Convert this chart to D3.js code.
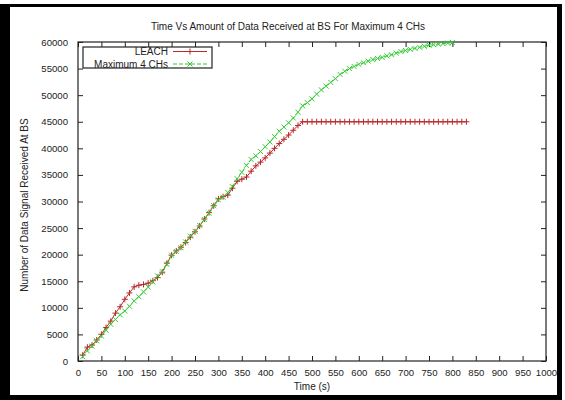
<!DOCTYPE html>
<html>
<head>
<meta charset="utf-8">
<script src="https://cdn.jsdelivr.net/npm/d3@7/dist/d3.min.js"></script>
<style>
  body { margin: 0; background: #fff; }
  text { font-family: "Liberation Sans", Arial, sans-serif; fill: #222; }
</style>
</head>
<body>
<script>
// 데이터: 시간(s) 과 두 시리즈 값
var times = [10, 20, 30, 40, 50, 60, 70, 80, 90, 100,
  110, 120, 130, 140, 150, 160, 170, 180, 190, 200,
  210, 220, 230, 240, 250, 260, 270, 280, 290, 300,
  310, 320, 330, 340, 350, 360, 370, 380, 390, 400,
  410, 420, 430, 440, 450, 460, 470, 480, 490, 500,
  510, 520, 530, 540, 550, 560, 570, 580, 590, 600,
  610, 620, 630, 640, 650, 660, 670, 680, 690, 700,
  710, 720, 730, 740, 750, 760, 770, 780, 790, 800,
  810, 820, 830];

var leach = [1100, 2600, 3000, 3950, 5000, 6300, 7500, 9000, 10200, 11600,
  12800, 13950, 14250, 14400, 14650, 15100, 15700, 16700, 18400, 19900,
  20700, 21400, 22300, 23300, 24300, 25400, 26700, 27900, 29200, 30500,
  30900, 31200, 32500, 33800, 34200, 34600, 35700, 36700, 37400, 38200,
  39100, 40000, 40900, 41700, 42500, 43400, 44300, 45000, 45000, 45000,
  45000, 45000, 45000, 45000, 45000, 45000, 45000, 45000, 45000, 45000,
  45000, 45000, 45000, 45000, 45000, 45000, 45000, 45000, 45000, 45000,
  45000, 45000, 45000, 45000, 45000, 45000, 45000, 45000, 45000, 45000,
  45000, 45000, 45000];

var maxCH = [800, 1900, 2800, 3800, 4700, 5800, 6900, 7800, 8700, 9400,
  10300, 11300, 12100, 13000, 13900, 14900, 16000, 16800, 18200, 19900,
  20600, 21300, 22400, 23500, 24400, 25500, 26600, 27800, 29200, 30300,
  30800, 31700, 32800, 34300, 35500, 36800, 37900, 38600, 39400, 40300,
  41200, 42200, 43200, 44000, 44800, 45700, 46800, 48000, 48600, 49300,
  50200, 51000, 51700, 52400, 53100, 53900, 54500, 55000, 55400, 55800,
  56100, 56400, 56700, 56900, 57100, 57400, 57600, 57900, 58200, 58400,
  58600, 58800, 59000, 59200, 59400, 59500, 59600, 59700, 59800, 59900];

var xTicks = [0, 50, 100, 150, 200, 250, 300, 350, 400, 450, 500,
  550, 600, 650, 700, 750, 800, 850, 900, 950, 1000];
var yTicks = [0, 5000, 10000, 15000, 20000, 25000, 30000,
  35000, 40000, 45000, 50000, 55000, 60000];

var seriesNames = ["LEACH", "Maximum 4 CHs"];

var W = 565, H = 400;
var pLeft = 78, pRight = 546, pTop = 42, pBottom = 361;

var svg = d3.select("body").append("svg")
  .attr("width", W)
  .attr("height", H);

// 바깥 검은 테두리
svg.append("rect").attr("x", 0).attr("y", 4).attr("width", 562).attr("height", 396).attr("fill", "#000");
svg.append("rect").attr("x", 10).attr("y", 7).attr("width", 547).attr("height", 388).attr("fill", "#fff");

var x = d3.scaleLinear().domain([0, 1000]).range([pLeft, pRight]);
var y = d3.scaleLinear().domain([0, 60000]).range([pBottom, pTop]);
var fmt = d3.format("d");

// 축 (눈금은 안쪽)
svg.append("g").attr("transform", "translate(0," + pBottom + ")")
  .call(d3.axisBottom(x).tickValues(xTicks).tickFormat(fmt).tickSizeInner(-5).tickSizeOuter(0).tickPadding(8))
  .call(function (g) { g.select(".domain").remove(); })
  .selectAll("text").attr("font-size", "9.6px");

svg.append("g").attr("transform", "translate(0," + pTop + ")")
  .call(d3.axisTop(x).tickValues(xTicks).tickSizeInner(-5).tickSizeOuter(0).tickFormat(""))
  .call(function (g) { g.select(".domain").remove(); });

svg.append("g").attr("transform", "translate(" + pLeft + ",0)")
  .call(d3.axisLeft(y).tickValues(yTicks).tickFormat(fmt).tickSizeInner(-5).tickSizeOuter(0).tickPadding(10))
  .call(function (g) { g.select(".domain").remove(); })
  .selectAll("text").attr("font-size", "9.6px");

svg.append("g").attr("transform", "translate(" + pRight + ",0)")
  .call(d3.axisRight(y).tickValues(yTicks).tickSizeInner(-5).tickSizeOuter(0).tickFormat(""))
  .call(function (g) { g.select(".domain").remove(); });

svg.selectAll(".tick line").attr("stroke", "#222");

svg.append("rect")
  .attr("x", pLeft).attr("y", pTop)
  .attr("width", pRight - pLeft).attr("height", pBottom - pTop)
  .attr("fill", "none").attr("stroke", "#222").attr("stroke-width", 1.2);

// 제목, 축 레이블
svg.append("text").attr("x", 288).attr("y", 30).attr("text-anchor", "middle")
  .attr("font-size", "10px").text("Time Vs Amount of Data Received at BS For Maximum 4 CHs");
svg.append("text").attr("x", 312).attr("y", 390).attr("text-anchor", "middle")
  .attr("font-size", "10px").text("Time (s)");
svg.append("text").attr("transform", "translate(28,205) rotate(-90)").attr("text-anchor", "middle")
  .attr("font-size", "10px").text("Number of Data Signal Received At BS");

var plus = "M-3,0H3M0,-3V3";
var cross = "M-2.5,-2.5L2.5,2.5M-2.5,2.5L2.5,-2.5";

var red = "#b82a2a", green = "#33cc33";

var leachData = leach.map(function (d, i) { return [times[i], d]; });
var chData = maxCH.map(function (d, i) { return [times[i], d]; });

var line = d3.line()
  .x(function (d) { return x(d[0]); })
  .y(function (d) { return y(d[1]); });

// LEACH
svg.append("path").datum(leachData).attr("d", line)
  .attr("fill", "none").attr("stroke", red).attr("stroke-width", 1);
svg.selectAll(".pRed").data(leachData).enter().append("path")
  .attr("class", "pRed")
  .attr("transform", function (d) { return "translate(" + x(d[0]) + "," + y(d[1]) + ")"; })
  .attr("d", plus).attr("stroke", red).attr("stroke-width", 1).attr("fill", "none");

// Maximum 4 CHs
svg.append("path").datum(chData).attr("d", line)
  .attr("fill", "none").attr("stroke", green).attr("stroke-width", 1)
  .attr("stroke-dasharray", "4,2");
svg.selectAll(".pGreen").data(chData).enter().append("path")
  .attr("class", "pGreen")
  .attr("transform", function (d) { return "translate(" + x(d[0]) + "," + y(d[1]) + ")"; })
  .attr("d", cross).attr("stroke", green).attr("stroke-width", 1).attr("fill", "none");

// 범례
svg.append("rect").attr("x", 83).attr("y", 47).attr("width", 129).attr("height", 21)
  .attr("fill", "#fff").attr("stroke", "#222").attr("stroke-width", 1.2);

var legend = svg.selectAll(".leg").data(seriesNames).enter().append("g")
  .attr("class", "leg")
  .attr("transform", function (d, i) { return "translate(0," + (51.5 + i * 12.5) + ")"; });
legend.append("text").attr("x", 168).attr("y", 3.5).attr("text-anchor", "end")
  .attr("font-size", "10px").text(function (d) { return d; });
legend.append("line").attr("x1", 173).attr("x2", 207)
  .attr("stroke", function (d, i) { return i ? green : red; })
  .attr("stroke-dasharray", function (d, i) { return i ? "4,2" : null; });
legend.append("path").attr("transform", "translate(190,0)")
  .attr("d", function (d, i) { return i ? cross : plus; })
  .attr("stroke", function (d, i) { return i ? green : red; })
  .attr("fill", "none");
</script>
</body>
</html>
